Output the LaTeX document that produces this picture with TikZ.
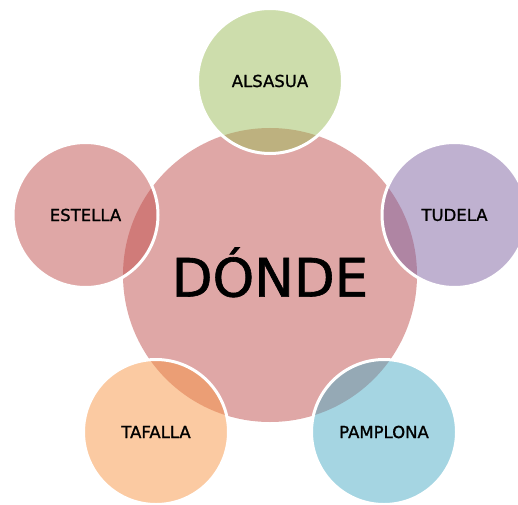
\documentclass[tikz,border=0pt]{standalone}
\usepackage{fontspec}
\setmainfont{DejaVu Sans}[UprightFeatures={FakeBold=1.2}]
\usetikzlibrary{positioning}
\definecolor{rojo}{HTML}{C0504D}
\definecolor{verde}{HTML}{9BBB59}
\definecolor{morado}{HTML}{8064A2}
\definecolor{azul}{HTML}{4BACC6}
\definecolor{naranja}{HTML}{F79646}
\begin{document}
\begin{tikzpicture}[x=1pt,y=1pt]
			\tikzstyle{every node}+=[inner sep=0pt]
			\tikzstyle{centro}=[circle, minimum size=294pt, fill=rojo, fill opacity=0.5, text opacity=1, font=\fontsize{53}{60}\selectfont]
			\tikzstyle{lugar}=[circle, minimum size=145pt, draw=white, line width=3pt, draw opacity=1, fill opacity=0.5, text opacity=1, font=\fontsize{16.5}{20}\selectfont]
			\clip (0,0) rectangle (518,504);
			\node [centro] (donde) at (270,229) {\raisebox{6pt}{DÓNDE}};
			\node [lugar, fill=verde] (alsasua) at (270,423) {ALSASUA};
			\node [lugar, fill=morado] (tudela) at (454.5,289) {TUDELA};
			\node [lugar, fill=azul] (pamplona) at (384,72) {PAMPLONA};
			\node [lugar, fill=naranja] (tafalla) at (156,72) {TAFALLA};
			\node [lugar, fill=rojo] (estella) at (85.5,289) {ESTELLA};
			\end{tikzpicture}
\end{document}
